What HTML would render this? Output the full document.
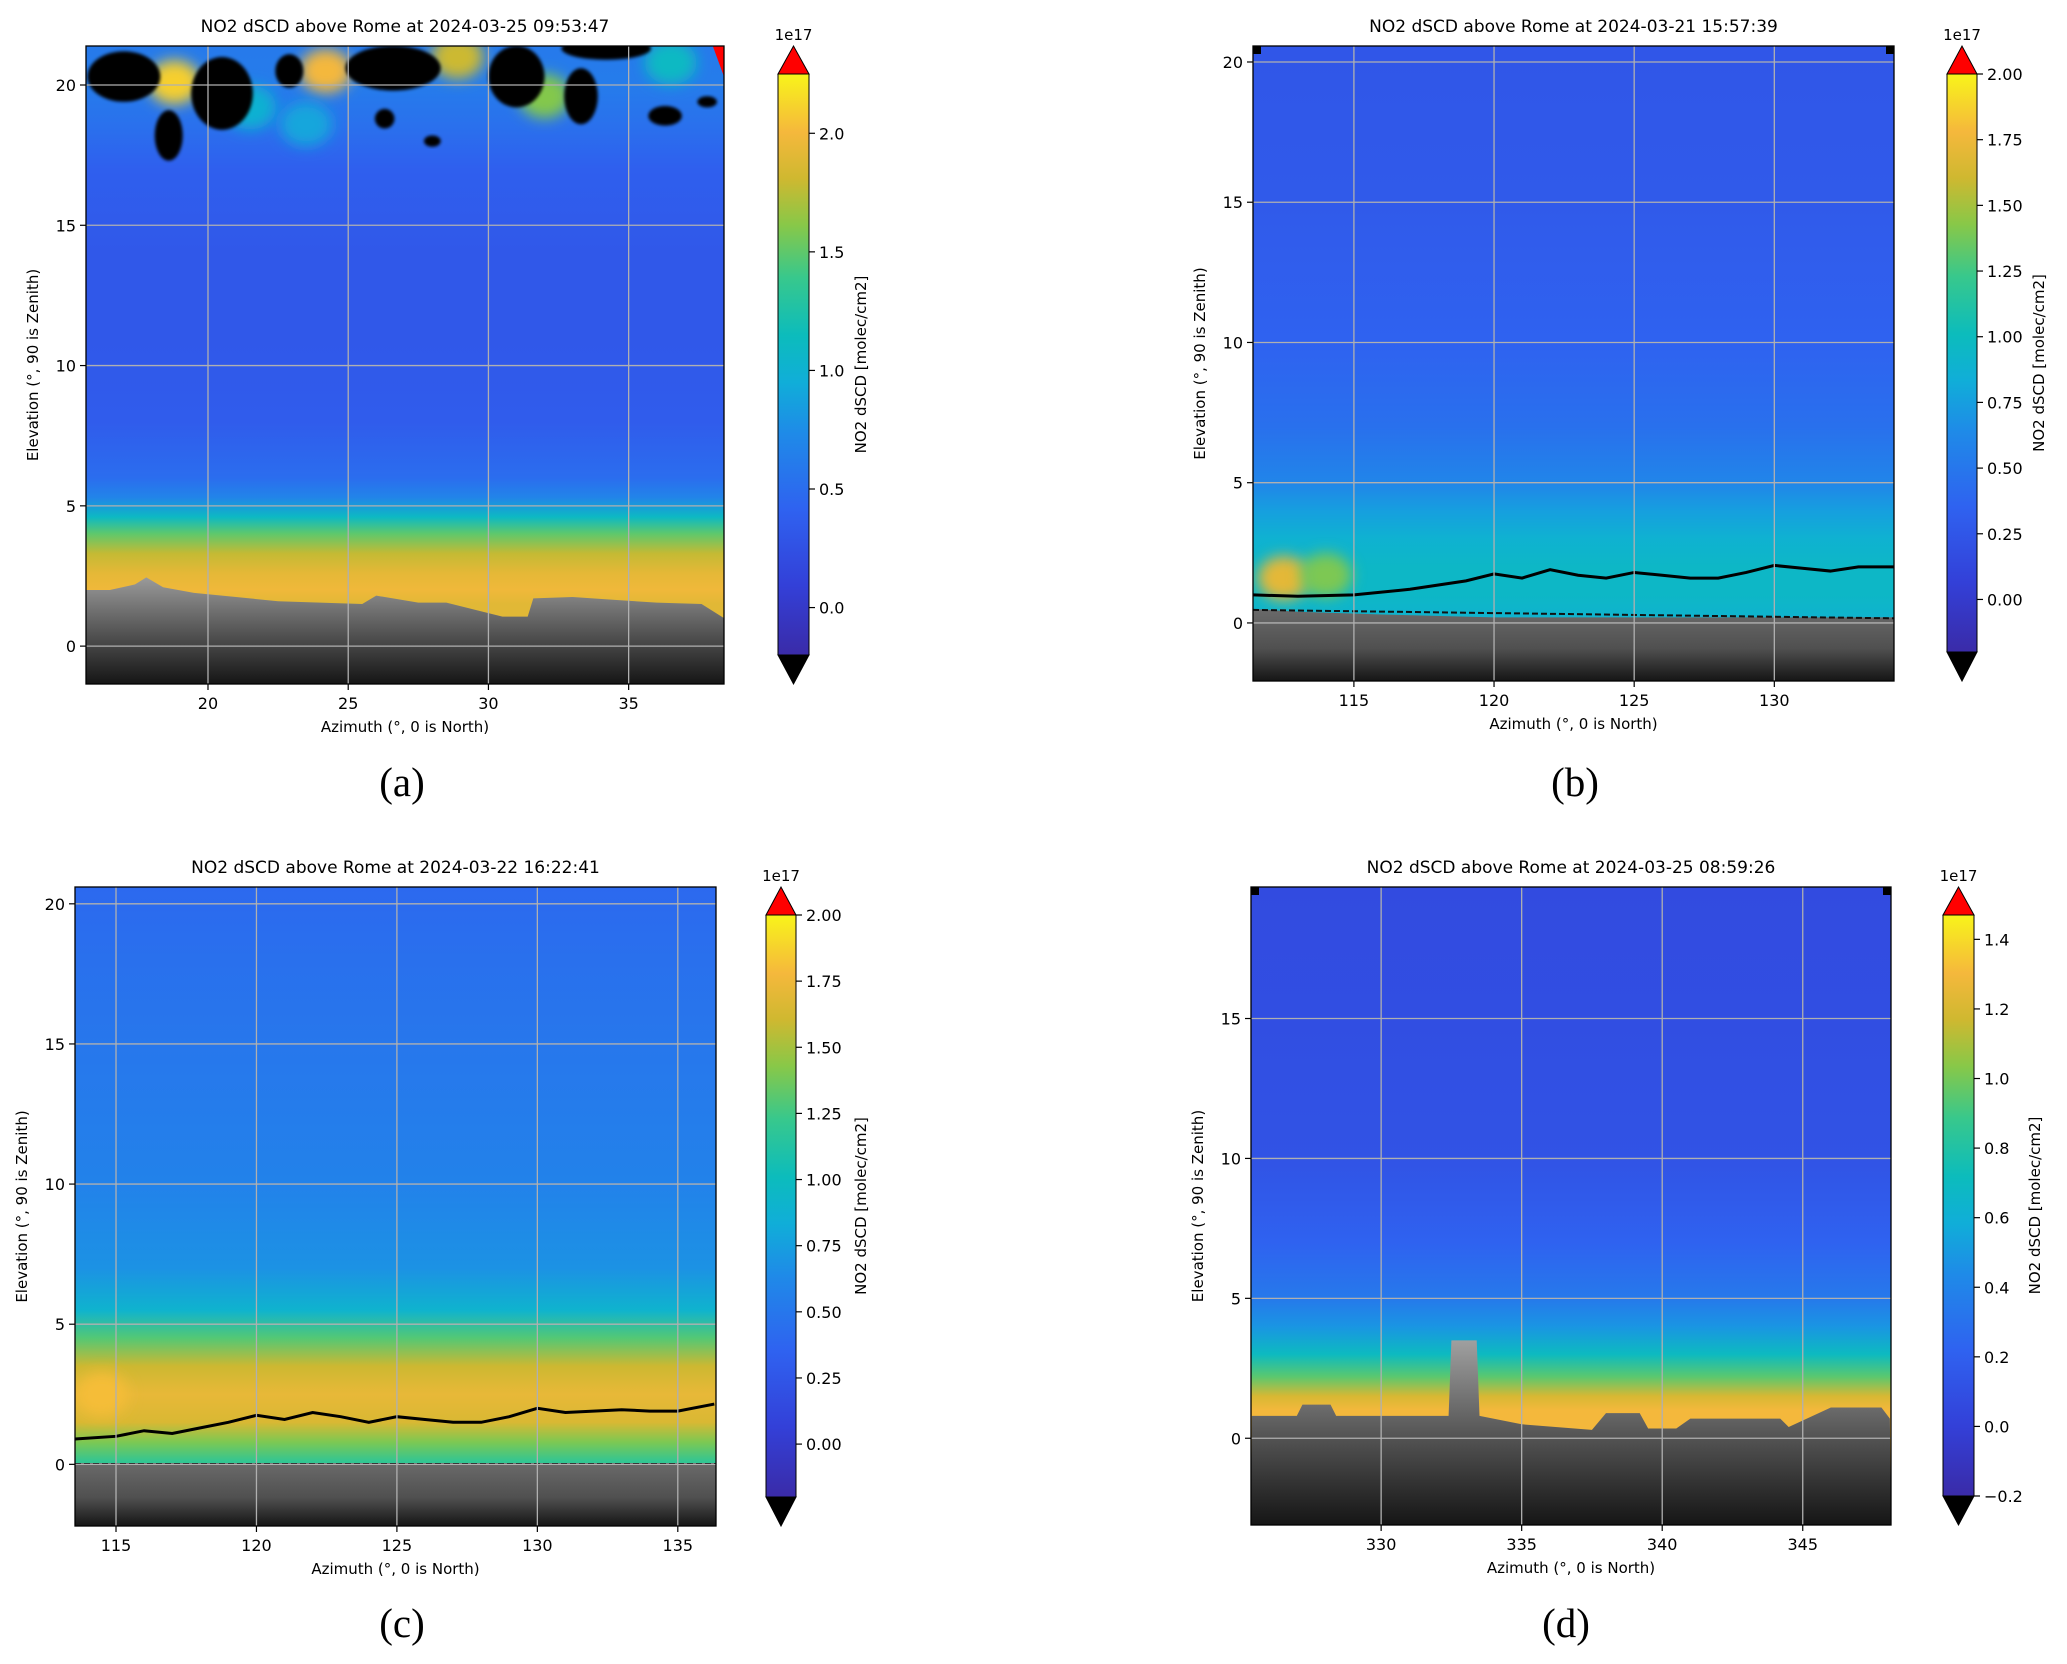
<!DOCTYPE html>
<html><head><meta charset="utf-8">
<style>
html,body{margin:0;padding:0;background:#fff;}
svg{display:block;font-family:"DejaVu Sans","Liberation Sans",sans-serif;}
.sub{font-family:"Liberation Serif",serif;font-size:41px;}
</style></head>
<body>
<svg id="fig" width="2067" height="1664" viewBox="0 0 2067 1664" xmlns="http://www.w3.org/2000/svg">
<defs>
<filter id="blur6" x="-50%" y="-50%" width="200%" height="200%"><feGaussianBlur stdDeviation="7"/></filter>
<filter id="blur2" x="-20%" y="-20%" width="140%" height="140%"><feGaussianBlur stdDeviation="1.5"/></filter>
</defs>
</svg>
<script>
// ---- shared colormap (value fraction -> colour) ----
const cmapT=[0,0.12,0.25,0.38,0.47,0.55,0.65,0.74,0.82,0.9,1];
const cmapC=['#3a2ba8','#3340d8','#2f62f0','#1f8ae8','#10aed8','#0cbcbc','#38c88c','#88c848','#cfb830','#f5b83c','#f8f41a'];

// ---- panel (a) ----
const titleA='NO2 dSCD above Rome at 2024-03-25 09:53:47';
const azTicksA=[20,25,30,35];
const elTicksA=[0,5,10,15,20];
const cbTicksA=[0.0,0.5,1.0,1.5,2.0];
const cbLabelsA=['0.0','0.5','1.0','1.5','2.0'];
const profElA=[21.4,20,18.5,17,14,11,8,6,5.3,4.6,4,3.3,2.6,2.0,1.5];
const profValA=[0.6,0.62,0.52,0.38,0.32,0.32,0.36,0.5,0.68,1.1,1.5,1.78,1.92,1.98,1.9];
const skyAzA=[15.65,16.5,17.4,17.8,18.4,19.5,21,22.5,24,25.5,26,27.5,28.5,29.5,30.5,31.4,31.6,33,34.5,36,37.6,38.4];
const skyElA=[2.0,2.0,2.2,2.45,2.1,1.9,1.75,1.6,1.55,1.5,1.8,1.55,1.55,1.3,1.05,1.05,1.7,1.75,1.65,1.55,1.5,1.0];
const blobAzA=[17,18.6,20.5,22.9,26.6,26.3,31.0,33.3,34.2,36.3,37.8,28.0];
const blobElA=[20.3,18.2,19.7,20.5,20.6,18.8,20.3,19.6,21.3,18.9,19.4,18.0];
const blobRxA=[1.3,0.5,1.1,0.5,1.7,0.35,1.0,0.6,1.6,0.6,0.35,0.3];
const blobRyA=[0.9,0.9,1.3,0.6,0.8,0.35,1.1,1.0,0.4,0.35,0.2,0.2];
const spotAzA=[18.8,24.2,28.9,32.0,21.5,36.5,23.5];
const spotElA=[20.1,20.5,21.0,19.6,19.2,20.8,18.6];
const spotValA=[2.1,2.0,1.8,1.6,1.0,1.1,0.9];

// ---- panel (b) ----
const titleB='NO2 dSCD above Rome at 2024-03-21 15:57:39';
const azTicksB=[115,120,125,130];
const elTicksB=[0,5,10,15,20];
const cbTicksB=[0,0.25,0.5,0.75,1.0,1.25,1.5,1.75,2.0];
const cbLabelsB=['0.00','0.25','0.50','0.75','1.00','1.25','1.50','1.75','2.00'];
const profElB=[20.6,15,10,7,5,4,3,2,1,0.2];
const profValB=[0.25,0.28,0.35,0.45,0.6,0.75,0.88,0.95,0.95,0.9];
const skyAzB=[111.4,113,116,120,125,130,134.3];
const skyElB=[0.5,0.4,0.3,0.2,0.2,0.2,0.2];
const contAzB=[111.4,113,115,117,119,120,121,122,123,124,125,126,127,128,129,130,131,132,133,134.3];
const contElB=[1.0,0.95,1.0,1.2,1.5,1.75,1.6,1.9,1.7,1.6,1.8,1.7,1.6,1.6,1.8,2.05,1.95,1.85,2.0,2.0];
const spotAzB=[112.5,114.0];
const spotElB=[1.6,1.7];
const spotValB=[1.7,1.4];

// ---- panel (c) ----
const titleC='NO2 dSCD above Rome at 2024-03-22 16:22:41';
const azTicksC=[115,120,125,130,135];
const elTicksC=[0,5,10,15,20];
const cbTicksC=[0,0.25,0.5,0.75,1.0,1.25,1.5,1.75,2.0];
const cbLabelsC=['0.00','0.25','0.50','0.75','1.00','1.25','1.50','1.75','2.00'];
const profElC=[20.6,18,15,10,7,5.5,4.5,3.5,2.5,1.5,0.8,0.1];
const profValC=[0.4,0.45,0.5,0.58,0.68,0.9,1.3,1.6,1.72,1.65,1.4,1.2];
const skyAzC=[113.5,136.4];
const skyElC=[0.05,0.05];
const contAzC=[113.5,115,116,117,118,119,120,121,122,123,124,125,126,127,128,129,130,131,132,133,134,135,136.3];
const contElC=[0.9,1.0,1.2,1.1,1.3,1.5,1.75,1.6,1.85,1.7,1.5,1.7,1.6,1.5,1.5,1.7,2.0,1.85,1.9,1.95,1.9,1.9,2.15];
const spotAzC=[114.5];
const spotElC=[2.5];
const spotValC=[1.8];

// ---- panel (d) ----
const titleD='NO2 dSCD above Rome at 2024-03-25 08:59:26';
const azTicksD=[330,335,340,345];
const elTicksD=[0,5,10,15];
const cbTicksD=[-0.2,0,0.2,0.4,0.6,0.8,1.0,1.2,1.4];
const cbLabelsD=['\u22120.2','0.0','0.2','0.4','0.6','0.8','1.0','1.2','1.4'];
const profElD=[19.7,15,10,7,5,4,3,2.2,1.5,1.0];
const profValD=[0.07,0.09,0.12,0.22,0.34,0.48,0.7,0.95,1.2,1.3];
const skyAzD=[325.4,327,327.2,328.2,328.4,332.4,332.5,333.4,333.5,335,337.5,338,339.2,339.5,340.5,341,344.2,344.5,346,346.2,347.8,348.1];
const skyElD=[0.8,0.8,1.2,1.2,0.8,0.8,3.5,3.5,0.8,0.5,0.3,0.9,0.9,0.35,0.35,0.7,0.7,0.4,1.1,1.1,1.1,0.7];

const NS='http://www.w3.org/2000/svg';
const fig=document.getElementById('fig');
const defs=fig.querySelector('defs');
function mk(tag,attrs,parent){const e=document.createElementNS(NS,tag);for(const k in attrs)e.setAttribute(k,attrs[k]);(parent||fig).appendChild(e);return e;}
function hex(h){return [parseInt(h.substr(1,2),16),parseInt(h.substr(3,2),16),parseInt(h.substr(5,2),16)];}
function cmap(t){t=Math.max(0,Math.min(1,t));for(let i=1;i<cmapT.length;i++){if(t<=cmapT[i]){const f=(t-cmapT[i-1])/(cmapT[i]-cmapT[i-1]);const a=hex(cmapC[i-1]),b=hex(cmapC[i]);return 'rgb('+a.map((v,j)=>Math.round(v+(b[j]-v)*f)).join(',')+')';}}return cmapC[cmapC.length-1];}

const panels=[
 {id:'a',title:titleA,px:[86,724],py:[46,684],az:[15.65,38.4],el:[21.39,-1.35],cbx:[778,809],cby:[74,655],cbv:[-0.2,2.25],tri:[46,684],
  azT:azTicksA,elT:elTicksA,cbT:cbTicksA,cbL:cbLabelsA,pE:profElA,pV:profValA,skA:skyAzA,skE:skyElA,cAz:null,sAz:spotAzA,sEl:spotElA,sV:spotValA,sub:'(a)',subX:402,subY:796,cbLabX:866,grayTop:'#9a9a9a'},
 {id:'b',title:titleB,px:[1253,1894],py:[46,681],az:[111.4,134.27],el:[20.57,-2.07],cbx:[1947,1977],cby:[74,652],cbv:[-0.2,2.0],tri:[46,681],
  azT:azTicksB,elT:elTicksB,cbT:cbTicksB,cbL:cbLabelsB,pE:profElB,pV:profValB,skA:skyAzB,skE:skyElB,cAz:contAzB,cEl:contElB,sAz:spotAzB,sEl:spotElB,sV:spotValB,sub:'(b)',subX:1575,subY:796,cbLabX:2044,grayTop:'#6a6a6a'},
 {id:'c',title:titleC,px:[75,716],py:[887,1526],az:[113.54,136.36],el:[20.6,-2.2],cbx:[766,796],cby:[915,1497],cbv:[-0.2,2.0],tri:[887,1526],
  azT:azTicksC,elT:elTicksC,cbT:cbTicksC,cbL:cbLabelsC,pE:profElC,pV:profValC,skA:skyAzC,skE:skyElC,cAz:contAzC,cEl:contElC,sAz:spotAzC,sEl:spotElC,sV:spotValC,sub:'(c)',subX:402,subY:1637,cbLabX:866,grayTop:'#6a6a6a'},
 {id:'d',title:titleD,px:[1251,1891],py:[887,1525],az:[325.37,348.14],el:[19.7,-3.1],cbx:[1943,1974],cby:[915,1496],cbv:[-0.2,1.47],tri:[887,1525],
  azT:azTicksD,elT:elTicksD,cbT:cbTicksD,cbL:cbLabelsD,pE:profElD,pV:profValD,skA:skyAzD,skE:skyElD,cAz:null,sAz:[],sEl:[],sV:[],sub:'(d)',subX:1566,subY:1637,cbLabX:2040,grayTop:'#a0a0a0'}
];

panels.forEach(p=>{
  const X=a=>p.px[0]+(a-p.az[0])/(p.az[1]-p.az[0])*(p.px[1]-p.px[0]);
  const Y=e=>p.py[0]+(e-p.el[0])/(p.el[1]-p.el[0])*(p.py[1]-p.py[0]);
  const T=v=>(v-p.cbv[0])/(p.cbv[1]-p.cbv[0]);
  const CY=v=>p.cby[1]-T(v)*(p.cby[1]-p.cby[0]);
  const g=mk('g',{});
  
  
  const cid='clip'+p.id;
  const cp=mk('clipPath',{id:cid},defs);
  mk('rect',{x:p.px[0],y:p.py[0],width:p.px[1]-p.px[0],height:p.py[1]-p.py[0]},cp);
  const gid='fg'+p.id;
  const lg=mk('linearGradient',{id:gid,gradientUnits:'userSpaceOnUse',x1:0,y1:p.py[0],x2:0,y2:p.py[1]},defs);
  p.pE.forEach((e,i)=>{mk('stop',{offset:((Y(e)-p.py[0])/(p.py[1]-p.py[0])).toFixed(4),'stop-color':cmap(T(p.pV[i]))},lg);});
  const hm=mk('g',{'clip-path':'url(#'+cid+')'},g);
  
  
  const field=mk('rect',{x:p.px[0],y:p.py[0],width:p.px[1]-p.px[0],height:p.py[1]-p.py[0],fill:'url(#'+gid+')'},hm);
  
  
  p.sAz.forEach((a,i)=>{
    const s=mk('ellipse',{cx:X(a),cy:Y(p.sEl[i]),rx:26,ry:22,fill:cmap(T(p.sV[i])),filter:'url(#blur6)'},hm);
    
    
  });
  if(p.id==='a'){
    blobAzA.forEach((a,i)=>{
      const b=mk('ellipse',{cx:X(a),cy:Y(blobElA[i]),rx:blobRxA[i]*28,ry:blobRyA[i]*28,fill:'#000',filter:'url(#blur2)'},hm);
      
      
    });
    const r=mk('polygon',{points:[[X(38.0),p.py[0]],[X(38.4),p.py[0]],[X(38.4),Y(20.3)]].join(' '),fill:'#ff0000'},hm);
    
    
  }
  if(p.id==='b'||p.id==='d'){
    [p.az[0],p.az[1]].forEach((c,k)=>{
      const m=mk('rect',{x:X(c)-(k===0?0:8),y:p.py[0],width:8,height:8,fill:'#000'},hm);
      
      
    });
  }
  const grid='sg'+p.id;
  const sg=mk('linearGradient',{id:grid,gradientUnits:'userSpaceOnUse',x1:0,y1:Y(Math.max(...p.skE)),x2:0,y2:p.py[1]},defs);
  mk('stop',{offset:0,'stop-color':p.grayTop},sg);
  mk('stop',{offset:0.55,'stop-color':'#505050'},sg);
  mk('stop',{offset:1,'stop-color':'#151515'},sg);
  let pts=p.skA.map((a,i)=>X(a)+','+Y(p.skE[i]));
  pts.push(p.px[1]+','+p.py[1]);pts.push(p.px[0]+','+p.py[1]);
  const city=mk('polygon',{points:pts.join(' '),fill:'url(#'+grid+')'},hm);
  
  
  if(p.cAz){
    const cl=mk('polyline',{points:p.cAz.map((a,i)=>X(a)+','+Y(p.cEl[i])).join(' '),fill:'none',stroke:'#000','stroke-width':3},hm);
    
    
    const cl2=mk('line',{x1:p.px[0],y1:Y(p.skE[0])+1,x2:p.px[1],y2:Y(p.skE[p.skE.length-1])+1,stroke:'#111','stroke-width':2,'stroke-dasharray':'6 3'},hm);
    
    
  }
  p.azT.forEach(a=>{const l=mk('line',{x1:X(a),x2:X(a),y1:p.py[0],y2:p.py[1],stroke:'#b0b0b0','stroke-width':1.3},g);});
  p.elT.forEach(e=>{const l=mk('line',{x1:p.px[0],x2:p.px[1],y1:Y(e),y2:Y(e),stroke:'#b0b0b0','stroke-width':1.3},g);});
  const fr=mk('rect',{x:p.px[0],y:p.py[0],width:p.px[1]-p.px[0],height:p.py[1]-p.py[0],fill:'none',stroke:'#000','stroke-width':1.3},g);
  
  
  p.azT.forEach(a=>{
    mk('line',{x1:X(a),x2:X(a),y1:p.py[1],y2:p.py[1]+6,stroke:'#000','stroke-width':1.2},g);
    const t=mk('text',{x:X(a),y:p.py[1]+25,'text-anchor':'middle','font-size':16,fill:'#000'},g);
    t.textContent=a;
    
    
  });
  p.elT.forEach(e=>{
    mk('line',{x1:p.px[0]-6,x2:p.px[0],y1:Y(e),y2:Y(e),stroke:'#000','stroke-width':1.2},g);
    const t=mk('text',{x:p.px[0]-10,y:Y(e)+6,'text-anchor':'end','font-size':16,fill:'#000'},g);
    t.textContent=e;
    
    
  });
  const tt=mk('text',{x:(p.px[0]+p.px[1])/2,y:p.py[0]-14,'text-anchor':'middle','font-size':17,fill:'#000'},g);
  tt.textContent=p.title;
  
  
  const xl=mk('text',{x:(p.px[0]+p.px[1])/2,y:p.py[1]+48,'text-anchor':'middle','font-size':15,fill:'#000'},g);
  xl.textContent='Azimuth (\u00b0, 0 is North)';
  
  
  const ylx=p.px[0]-48, yly=(p.py[0]+p.py[1])/2;
  const yl=mk('text',{x:ylx,y:yly,'text-anchor':'middle','font-size':15,fill:'#000',transform:'rotate(-90 '+ylx+' '+yly+')'},g);
  yl.textContent='Elevation (\u00b0, 90 is Zenith)';
  
  
  const cbg=mk('linearGradient',{id:'cb'+p.id,x1:0,y1:1,x2:0,y2:0},defs);
  cmapT.forEach((t,i)=>mk('stop',{offset:t,'stop-color':cmapC[i]},cbg));
  const cbGroup=mk('g',{},g);
  
  
  const w=p.cbx[1]-p.cbx[0], mx=(p.cbx[0]+p.cbx[1])/2;
  mk('polygon',{points:[[p.cbx[0],p.cby[0]],[p.cbx[1],p.cby[0]],[mx,p.tri[0]]].join(' '),fill:'#ff0000',stroke:'#000','stroke-width':1},cbGroup);
  mk('polygon',{points:[[p.cbx[0],p.cby[1]],[p.cbx[1],p.cby[1]],[mx,p.tri[1]]].join(' '),fill:'#000',stroke:'#000','stroke-width':1},cbGroup);
  mk('rect',{x:p.cbx[0],y:p.cby[0],width:w,height:p.cby[1]-p.cby[0],fill:'url(#cb'+p.id+')',stroke:'#000','stroke-width':1},cbGroup);
  p.cbT.forEach((v,i)=>{
    mk('line',{x1:p.cbx[1],x2:p.cbx[1]+6,y1:CY(v),y2:CY(v),stroke:'#000','stroke-width':1.2},cbGroup);
    const t=mk('text',{x:p.cbx[1]+10,y:CY(v)+6,'font-size':16,fill:'#000'},cbGroup);
    t.textContent=p.cbL[i];
    
    
  });
  const ex=mk('text',{x:mx,y:p.tri[0]-6,'text-anchor':'middle','font-size':15,fill:'#000'},cbGroup);
  ex.textContent='1e17';
  
  
  const cly=(p.cby[0]+p.cby[1])/2;
  const cl=mk('text',{x:p.cbLabX,y:cly,'text-anchor':'middle','font-size':15,fill:'#000',transform:'rotate(-90 '+p.cbLabX+' '+cly+')'},cbGroup);
  cl.textContent='NO2 dSCD [molec/cm2]';
  
  
  const sb=mk('text',{x:p.subX,y:p.subY,'text-anchor':'middle','class':'sub',fill:'#000'},g);
  sb.textContent=p.sub;
  
  
});
</script>
</body></html>
